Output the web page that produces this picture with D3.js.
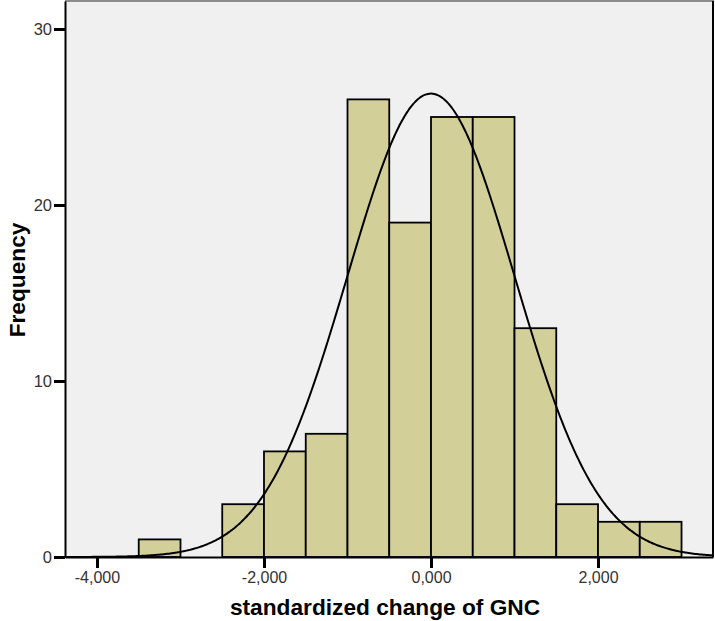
<!DOCTYPE html>
<html>
<head>
<meta charset="utf-8">
<script src="https://cdn.jsdelivr.net/npm/d3@7"></script>
<style>
  html, body { margin: 0; padding: 0; background: #ffffff; }
  svg { display: block; }
</style>
</head>
<body>
<svg id="chart" width="715" height="621"></svg>
<script>
// ---- data ----
const binEdgesStart = [-3.5, -3.0, -2.5, -2.0, -1.5, -1.0, -0.5, 0.0, 0.5, 1.0, 1.5, 2.0, 2.5];
const binWidth = 0.5;
const counts = [1, 0, 3, 6, 7, 26, 19, 25, 25, 13, 3, 2, 2];
const xTicks = [-4, -2, 0, 2];
const xTickLabels = ["-4,000", "-2,000", "0,000", "2,000"];
const yTicks = [0, 10, 20, 30];
const curveMean = 0.0;
const curveSd = 1.0;
const xTitle = "standardized change of GNC";
const yTitle = "Frequency";

// ---- layout ----
const svg = d3.select("#chart");
const pLeft = 65, pRight = 713, pTop = 1, pBottom = 557;

const x = d3.scaleLinear().domain([-4.383, 3.377]).range([pLeft, pRight]);
const y = d3.scaleLinear().domain([0, 31.59]).range([pBottom, pTop]);

// plot background
svg.append("rect")
  .attr("x", pLeft).attr("y", pTop)
  .attr("width", pRight - pLeft).attr("height", pBottom - pTop)
  .attr("fill", "#f0f0f0");

// bars
const bars = binEdgesStart.map((s, i) => ({ x0: s, x1: s + binWidth, n: counts[i] }))
  .filter(d => d.n > 0);
svg.append("g").selectAll("rect")
  .data(bars)
  .join("rect")
  .attr("x", d => x(d.x0))
  .attr("y", d => y(d.n))
  .attr("width", d => x(d.x1) - x(d.x0))
  .attr("height", d => y(0) - y(d.n))
  .attr("fill", "#d3cf98")
  .attr("stroke", "#000")
  .attr("stroke-width", 1.8);

// normal curve
const N = d3.sum(counts);
const dens = v => N * binWidth / (curveSd * Math.sqrt(2 * Math.PI)) *
  Math.exp(-0.5 * Math.pow((v - curveMean) / curveSd, 2));
const xs = d3.range(0, 401).map(i => x.domain()[0] + i * (x.domain()[1] - x.domain()[0]) / 400);
svg.append("path")
  .datum(xs)
  .attr("fill", "none")
  .attr("stroke", "#000")
  .attr("stroke-width", 2)
  .attr("d", d3.line().x(v => x(v)).y(v => y(dens(v))).curve(d3.curveBasis));

// frame: top gray, right black
svg.append("line").attr("x1", pLeft).attr("x2", pRight + 1).attr("y1", pTop).attr("y2", pTop)
  .attr("stroke", "#8c8c8c").attr("stroke-width", 2);
svg.append("line").attr("x1", pRight).attr("x2", pRight).attr("y1", pTop).attr("y2", pBottom)
  .attr("stroke", "#000").attr("stroke-width", 2);

// axes
const yAxis = d3.axisLeft(y).tickValues(yTicks).tickSize(11).tickSizeOuter(0).tickPadding(2)
  .tickFormat(d3.format("d"));
const gy = svg.append("g").attr("transform", `translate(${pLeft},0)`).call(yAxis);
gy.select(".domain").attr("stroke", "#000").attr("stroke-width", 2);
gy.selectAll(".tick line").attr("stroke", "#000").attr("stroke-width", 3);
gy.selectAll(".tick text").attr("font-family", "Liberation Sans, Arial, sans-serif")
  .attr("font-size", 16.5).attr("fill", "#333");

const xAxis = d3.axisBottom(x).tickValues(xTicks).tickSize(11).tickSizeOuter(0).tickPadding(4)
  .tickFormat((d, i) => xTickLabels[i]);
const gx = svg.append("g").attr("transform", `translate(0,${pBottom})`).call(xAxis);
gx.select(".domain").attr("stroke", "#000").attr("stroke-width", 2);
gx.selectAll(".tick line").attr("stroke", "#000").attr("stroke-width", 3);
gx.selectAll(".tick text").attr("font-family", "Liberation Sans, Arial, sans-serif")
  .attr("font-size", 16).attr("fill", "#333");

// titles
svg.append("text")
  .attr("x", 385).attr("y", 615)
  .attr("text-anchor", "middle")
  .attr("font-family", "Liberation Sans, Arial, sans-serif")
  .attr("font-weight", "bold").attr("font-size", 22.7).attr("fill", "#000")
  .text(xTitle);
svg.append("text")
  .attr("transform", "translate(25,280) rotate(-90)")
  .attr("text-anchor", "middle")
  .attr("font-family", "Liberation Sans, Arial, sans-serif")
  .attr("font-weight", "bold").attr("font-size", 22.7).attr("fill", "#000")
  .text(yTitle);
</script>
</body>
</html>
